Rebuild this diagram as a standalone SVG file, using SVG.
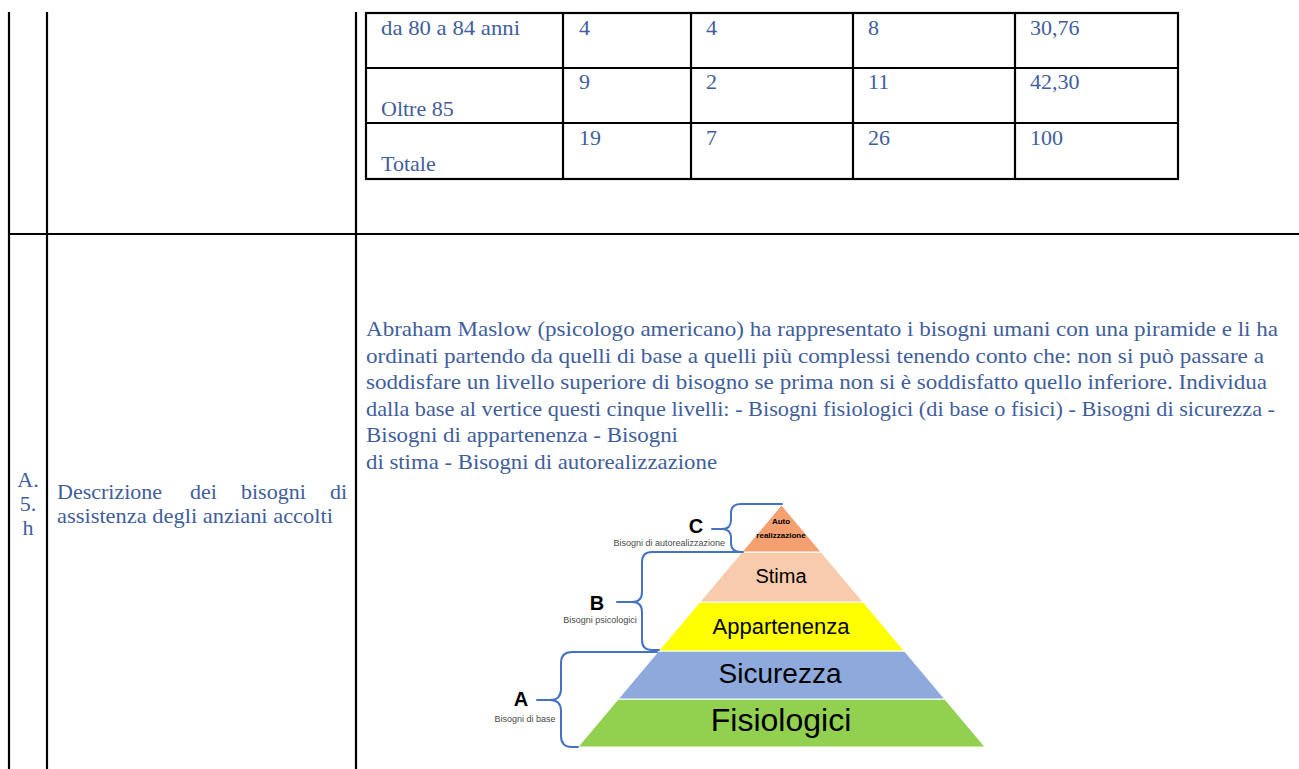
<svg xmlns="http://www.w3.org/2000/svg" width="1299" height="769" viewBox="0 0 1299 769">
<style>
.t{font-family:"Liberation Serif",serif;font-size:22px;fill:#3f5e9c}
.g{stroke:#000;stroke-width:2.2;fill:none}
.br{stroke:#4472C4;stroke-width:2;fill:none;stroke-linecap:round}
.lab{font-family:"Liberation Sans",Arial,sans-serif;font-weight:bold;font-size:20px;fill:#000;text-anchor:middle}
.sm{font-family:"Liberation Sans",Arial,sans-serif;font-size:9px;fill:#4a4a4a}
.pt{font-family:"Liberation Sans",Arial,sans-serif;fill:#000;text-anchor:middle}
</style>
<rect width="1299" height="769" fill="#fff"/>
<g id="outer-grid">
<line class="g" x1="9" y1="12" x2="9" y2="769"/>
<line class="g" x1="47" y1="12" x2="47" y2="769"/>
<line class="g" x1="356" y1="12" x2="356" y2="769"/>
<line class="g" x1="8" y1="234" x2="1299" y2="234"/>
</g>
<g id="age-table">
<rect class="g" x="366" y="13" width="812" height="166"/>
<line class="g" x1="366" y1="68" x2="1178" y2="68"/>
<line class="g" x1="366" y1="123" x2="1178" y2="123"/>
<line class="g" x1="563" y1="13" x2="563" y2="179"/>
<line class="g" x1="691" y1="13" x2="691" y2="179"/>
<line class="g" x1="853" y1="13" x2="853" y2="179"/>
<line class="g" x1="1015" y1="13" x2="1015" y2="179"/>
<text class="t" x="381" y="35" textLength="139" lengthAdjust="spacingAndGlyphs">da 80 a 84 anni</text>
<text class="t" x="579" y="35">4</text>
<text class="t" x="706" y="35">4</text>
<text class="t" x="868" y="35">8</text>
<text class="t" x="1030" y="35">30,76</text>
<text class="t" x="579" y="89">9</text>
<text class="t" x="706" y="89">2</text>
<text class="t" x="868" y="89">11</text>
<text class="t" x="1030" y="89">42,30</text>
<text class="t" x="381" y="116">Oltre 85</text>
<text class="t" x="579" y="145">19</text>
<text class="t" x="706" y="145">7</text>
<text class="t" x="868" y="145">26</text>
<text class="t" x="1030" y="145">100</text>
<text class="t" x="381" y="171">Totale</text>
</g>
<g id="row-label">
<text class="t" x="28" y="487" text-anchor="middle">A.</text>
<text class="t" x="28" y="511" text-anchor="middle">5.</text>
<text class="t" x="28" y="535" text-anchor="middle">h</text>
<text class="t" x="57" y="499">Descrizione</text>
<text class="t" x="190" y="499">dei</text>
<text class="t" x="241" y="499">bisogni</text>
<text class="t" x="330" y="499">di</text>
<text class="t" x="57" y="523" textLength="276" lengthAdjust="spacingAndGlyphs">assistenza degli anziani accolti</text>
</g>
<g id="paragraph">
<text class="t" x="366" y="336" textLength="912" lengthAdjust="spacingAndGlyphs">Abraham Maslow (psicologo americano) ha rappresentato i bisogni umani con una piramide e li ha</text>
<text class="t" x="366" y="362.5" textLength="898" lengthAdjust="spacingAndGlyphs">ordinati partendo da quelli di base a quelli più complessi tenendo conto che: non si può passare a</text>
<text class="t" x="366" y="389" textLength="901" lengthAdjust="spacingAndGlyphs">soddisfare un livello superiore di bisogno se prima non si è soddisfatto quello inferiore. Individua</text>
<text class="t" x="366" y="415.5" textLength="909" lengthAdjust="spacingAndGlyphs">dalla base al vertice questi cinque livelli: - Bisogni fisiologici (di base o fisici) - Bisogni di sicurezza -</text>
<text class="t" x="366" y="442" textLength="312" lengthAdjust="spacingAndGlyphs">Bisogni di appartenenza - Bisogni</text>
<text class="t" x="366" y="468.5" textLength="351" lengthAdjust="spacingAndGlyphs">di stima - Bisogni di autorealizzazione</text>
</g>
<g id="pyramid">
<g id="level-fisiologici">
<polygon points="618.3,699 944.7,699 985,747 578,747" fill="#92D050" stroke="#fff" stroke-width="1"/>
<text class="pt" x="781" y="731" font-size="32">Fisiologici</text>
</g>
<g id="level-sicurezza">
<polygon points="658.7,651 904.3,651 944.7,699 618.3,699" fill="#8EA9DB" stroke="#fff" stroke-width="1"/>
<text class="pt" x="780" y="683" font-size="28">Sicurezza</text>
</g>
<g id="level-appartenenza">
<polygon points="699.9,602 863.1,602 904.3,651 658.7,651" fill="#FFFF00" stroke="#fff" stroke-width="1"/>
<text class="pt" x="781" y="634" font-size="22">Appartenenza</text>
</g>
<g id="level-stima">
<polygon points="742,552 821,552 863.1,602 699.9,602" fill="#F8CBAD" stroke="#fff" stroke-width="1"/>
<text class="pt" x="781" y="583" font-size="20">Stima</text>
</g>
<g id="level-auto">
<polygon points="781.5,505 821,552 742,552" fill="#F4A070" stroke="#fff" stroke-width="1"/>
<text class="pt" x="781" y="524" font-size="8" font-weight="bold">Auto</text>
<text class="pt" x="781" y="538" font-size="8" font-weight="bold">realizzazione</text>
</g>
</g>
<g id="connectors">
<path class="br" d="M782,504 H741 Q731,504 731,513 V520 Q731,529 722,529 H712 M722,529 Q731,529 731,538 V543 Q731,552 741,552 H743"/>
<path class="br" d="M742,552 H652 Q642,552 642,562 V592 Q642,602 632,602 H617 M632,602 Q642,602 642,612 V640 Q642,650 652,650 H659"/>
<path class="br" d="M657,652 H572 Q561,652 561,663 V689 Q561,700 550,700 H537 M550,700 Q561,700 561,711 V736 Q561,747 572,747 H578"/>
</g>
<g id="label-C">
<text class="lab" x="696" y="533">C</text>
<text class="sm" x="725" y="546" text-anchor="end">Bisogni di autorealizzazione</text>
</g>
<g id="label-B">
<text class="lab" x="597" y="610">B</text>
<text class="sm" x="600" y="623" text-anchor="middle">Bisogni psicologici</text>
</g>
<g id="label-A">
<text class="lab" x="521" y="706">A</text>
<text class="sm" x="525" y="722" text-anchor="middle">Bisogni di base</text>
</g>
</svg>
